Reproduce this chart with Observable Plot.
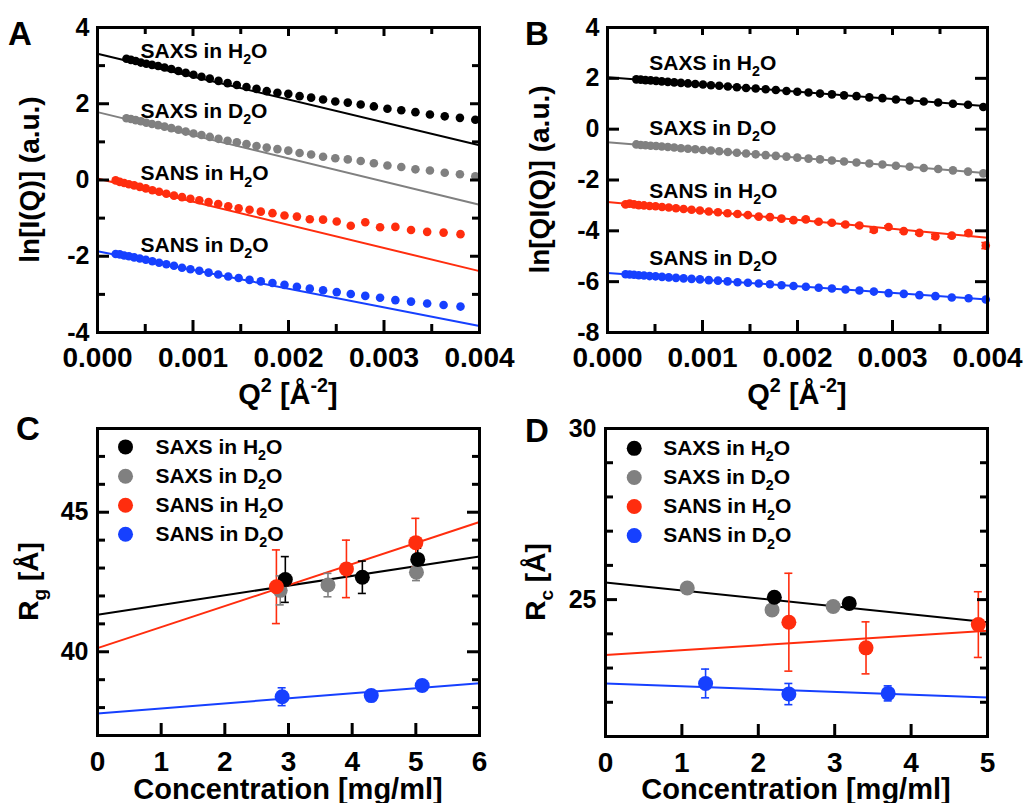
<!DOCTYPE html>
<html><head><meta charset="utf-8">
<script src="https://cdn.jsdelivr.net/npm/d3@7"></script>
<script src="https://cdn.jsdelivr.net/npm/@observablehq/plot@0.6"></script>
<style>
body{margin:0;background:#fff;}
#fig{position:relative;width:1024px;height:803px;overflow:hidden;background:#fff;}
.panel{position:absolute;}
</style></head><body><div id="fig"></div>
<script>
// ---------- series ----------
const seriesNames = ["SAXS in H_{2}O", "SAXS in D_{2}O", "SANS in H_{2}O", "SANS in D_{2}O"];
const seriesColors = ["#000000", "#808080", "#ff2d0e", "#1640ff"];

// ---------- Panel A: ln[I(Q)] vs Q^2 ----------
const qSAXS = [0.000303,0.000350,0.000400,0.000454,0.000511,0.000571,0.000635,0.000702,0.000773,0.000847,0.000924,0.001005,0.001089,0.001176,0.001267,0.001362,0.001459,0.001560,0.001665,0.001772,0.001884,0.001998,0.002116,0.002237,0.002362,0.002490,0.002621,0.002756,0.002894,0.003036,0.003181,0.003329,0.003481,0.003636,0.003795,0.003956];
const lnI_SAXS_H2O = [3.18,3.15,3.12,3.08,3.05,3.02,2.99,2.95,2.91,2.86,2.81,2.76,2.71,2.66,2.60,2.54,2.49,2.44,2.39,2.33,2.29,2.26,2.20,2.16,2.11,2.06,2.03,1.98,1.93,1.87,1.83,1.78,1.72,1.67,1.63,1.58];
const lnI_SAXS_D2O = [1.62,1.60,1.57,1.54,1.50,1.47,1.44,1.40,1.36,1.32,1.27,1.22,1.18,1.13,1.08,1.03,0.99,0.94,0.89,0.85,0.81,0.77,0.71,0.67,0.61,0.57,0.54,0.50,0.44,0.38,0.34,0.28,0.25,0.19,0.15,0.10];
const qSANS = [0.000190,0.000233,0.000279,0.000329,0.000384,0.000443,0.000506,0.000574,0.000645,0.000721,0.000801,0.000885,0.000973,0.001066,0.001163,0.001264,0.001369,0.001478,0.001592,0.001710,0.001832,0.001958,0.002088,0.002223,0.002362,0.002505,0.002652,0.002804,0.002959,0.003119,0.003283,0.003452,0.003624,0.003801];
const lnI_SANS_H2O = [-0.01,-0.05,-0.08,-0.11,-0.14,-0.18,-0.22,-0.27,-0.31,-0.36,-0.41,-0.45,-0.49,-0.53,-0.58,-0.63,-0.69,-0.74,-0.78,-0.83,-0.87,-0.93,-0.96,-1.03,-1.04,-1.09,-1.20,-1.11,-1.24,-1.23,-1.31,-1.36,-1.38,-1.42];
const lnI_SANS_D2O = [-1.94,-1.95,-1.98,-2.00,-2.03,-2.06,-2.09,-2.13,-2.17,-2.21,-2.25,-2.30,-2.34,-2.38,-2.43,-2.48,-2.53,-2.57,-2.62,-2.66,-2.70,-2.75,-2.80,-2.85,-2.89,-2.94,-2.99,-3.04,-3.09,-3.15,-3.19,-3.24,-3.28,-3.32];
const fitA_x = [0, 0.004];
const fitA_y0 = [3.31, 1.78, 0.04, -1.87];
const fitA_y1 = [0.91, -0.65, -2.39, -3.83];

// ---------- Panel B: ln[QI(Q)] vs Q^2 ----------
const qSANS_B = [0.000190,0.000233,0.000279,0.000329,0.000384,0.000443,0.000506,0.000574,0.000645,0.000721,0.000801,0.000885,0.000973,0.001066,0.001163,0.001264,0.001369,0.001478,0.001592,0.001710,0.001832,0.001958,0.002088,0.002223,0.002362,0.002505,0.002652,0.002804,0.002959,0.003119,0.003283,0.003452,0.003624,0.003801,0.003982];
const lnQI_SAXS_H2O = [1.96,1.95,1.93,1.92,1.90,1.88,1.86,1.84,1.82,1.80,1.78,1.76,1.73,1.71,1.68,1.65,1.62,1.60,1.57,1.54,1.50,1.47,1.44,1.40,1.37,1.33,1.30,1.25,1.22,1.17,1.13,1.09,1.05,1.00,0.96,0.87];
const lnQI_SAXS_D2O = [-0.60,-0.62,-0.63,-0.65,-0.66,-0.68,-0.70,-0.72,-0.75,-0.77,-0.79,-0.82,-0.84,-0.87,-0.90,-0.93,-0.96,-0.99,-1.02,-1.05,-1.08,-1.12,-1.16,-1.19,-1.23,-1.27,-1.31,-1.35,-1.39,-1.44,-1.48,-1.53,-1.57,-1.62,-1.67,-1.74];
const lnQI_SANS_H2O = [-2.96,-2.93,-2.96,-2.99,-3.00,-3.02,-3.03,-3.06,-3.08,-3.11,-3.14,-3.17,-3.20,-3.24,-3.27,-3.31,-3.34,-3.38,-3.44,-3.46,-3.52,-3.58,-3.55,-3.64,-3.68,-3.75,-3.79,-3.97,-3.85,-4.01,-4.08,-4.22,-4.19,-4.09,-4.58];
const errQI_SANS_H2O = [0.03,0.03,0.03,0.03,0.03,0.03,0.03,0.03,0.03,0.03,0.03,0.03,0.03,0.03,0.03,0.03,0.03,0.03,0.03,0.03,0.04,0.04,0.04,0.04,0.04,0.05,0.05,0.08,0.05,0.05,0.06,0.08,0.06,0.06,0.12];
const lnQI_SANS_D2O = [-5.71,-5.72,-5.73,-5.75,-5.76,-5.78,-5.79,-5.81,-5.83,-5.85,-5.87,-5.89,-5.91,-5.94,-5.96,-5.99,-6.02,-6.04,-6.07,-6.10,-6.14,-6.17,-6.20,-6.24,-6.27,-6.31,-6.35,-6.39,-6.45,-6.48,-6.53,-6.57,-6.62,-6.65,-6.70];
const fitB_x = [0, 0.004];
const fitB_y0 = [2.04, -0.51, -2.87, -5.66];
const fitB_y1 = [0.90, -1.73, -4.27, -6.70];

// ---------- Panel C: Rg vs concentration ----------
const concC = [[2.95, 4.16, 5.03], [2.87, 3.62, 5.01], [2.81, 3.91, 5.00], [2.90, 4.30, 5.10]];
const RgC   = [[42.59, 42.67, 43.31], [42.20, 42.39, 42.85], [42.33, 42.97, 43.91], [38.39, 38.43, 38.79]];
const errRgC = [[0.82, 0.58, 0.40], [0.52, 0.42, 0.30], [1.32, 1.03, 0.87], [0.32, 0.20, 0.20]];
const fitC_series = [0, 2, 3];
const fitC_x = [0, 6];
const fitC_y0 = [41.33, 40.13, 37.79];
const fitC_y1 = [43.41, 44.65, 38.87];

// ---------- Panel D: Rc vs concentration ----------
const concD = [[2.21, 3.19], [1.07, 2.18, 2.98], [2.40, 3.41, 4.88], [1.31, 2.40, 3.70]];
const RcD   = [[25.07, 24.89], [25.34, 24.70, 24.80], [24.34, 23.59, 24.27], [22.55, 22.24, 22.26]];
const errRcD = [[0, 0], [0, 0, 0], [1.43, 0.76, 0.96], [0.42, 0.31, 0.22]];
const fitD_series = [0, 2, 3];
const fitD_x = [0, 5];
const fitD_y0 = [25.50, 23.38, 22.55];
const fitD_y1 = [24.34, 24.09, 22.14];

// ---------- tick labels ----------
const xLabelsQ = [0, 0.001, 0.002, 0.003, 0.004];
const yLabelsA = [-4, -2, 0, 2, 4];
const yLabelsB = [-8, -6, -4, -2, 0, 2, 4];
const xLabelsC = [0, 1, 2, 3, 4, 5, 6];
const yLabelsC = [40, 45];
const xLabelsD = [0, 1, 2, 3, 4, 5];
const yLabelsD = [25, 30];

// ---------- helpers ----------
const FONT = "'Liberation Sans', Arial, Helvetica, sans-serif";
const fig = document.getElementById("fig");

function richify(node) {
  const s = node.textContent;
  if (!/[_^]\{/.test(s)) return;
  const fs = parseFloat(getComputedStyle(node).fontSize) || 20;
  const sel = d3.select(node); sel.text(null);
  const re = /([_^])\{([^}]*)\}/g; let last = 0, m; const parts = [];
  while ((m = re.exec(s))) {
    if (m.index > last) parts.push({t: s.slice(last, m.index), k: 0});
    parts.push({t: m[2], k: m[1] === "_" ? 1 : -1});
    last = re.lastIndex;
  }
  if (last < s.length) parts.push({t: s.slice(last), k: 0});
  let cur = 0;
  for (const p of parts) {
    const target = p.k === 1 ? 0.3 * fs : p.k === -1 ? -0.42 * fs : 0;
    const ts = sel.append("tspan").attr("dy", target - cur).text(p.t);
    if (p.k) ts.attr("font-size", 0.68 * fs);
    cur = target;
  }
}

function sideTicks(fw, fh, spec) {
  const out = [];
  const st = {stroke: "black", strokeWidth: 3};
  for (const t of spec.bottom || []) out.push(Plot.tickX(t[0], {x: d => d, insetTop: fh - t[1], ...st}));
  for (const t of spec.top || []) out.push(Plot.tickX(t[0], {x: d => d, insetBottom: fh - t[1], ...st}));
  for (const t of spec.left || []) out.push(Plot.tickY(t[0], {y: d => d, insetRight: fw - t[1], ...st}));
  for (const t of spec.right || []) out.push(Plot.tickY(t[0], {y: d => d, insetLeft: fw - t[1], ...st}));
  return out;
}

function makePanel(cfg) {
  const fw = cfg.width - cfg.mL - cfg.mR, fh = cfg.height - cfg.mT - cfg.mB;
  const chart = Plot.plot({
    width: cfg.width, height: cfg.height,
    marginLeft: cfg.mL, marginRight: cfg.mR, marginTop: cfg.mT, marginBottom: cfg.mB,
    x: {domain: cfg.xDomain}, y: {domain: cfg.yDomain},
    color: {type: "identity"},
    style: {fontFamily: FONT, fontWeight: "bold", color: "black", background: "transparent", overflow: "visible"},
    marks: [
      ...cfg.marks,
      Plot.frame({stroke: "black", strokeWidth: 3}),
      ...sideTicks(fw, fh, cfg.ticks),
      Plot.axisX(cfg.xLabels, {tickSize: 0, tickPadding: cfg.xPad, tickFormat: cfg.xFormat, fontSize: 28, fontWeight: "bold", label: null}),
      Plot.axisY(cfg.yLabels, {tickSize: 0, tickPadding: cfg.yPad, tickFormat: d => String(d), fontSize: 25, fontWeight: "bold", label: null})
    ]
  });
  const div = document.createElement("div");
  div.className = "panel";
  div.style.left = cfg.left + "px"; div.style.top = cfg.top + "px";
  div.appendChild(chart);
  fig.appendChild(div);
  const svg = d3.select(chart.tagName === "svg" ? chart : chart.querySelector("svg"));
  const addText = (txt, x, y, size, anchor, rotate) => {
    svg.append("text")
      .attr("transform", `translate(${x},${y})` + (rotate ? ` rotate(${rotate})` : ""))
      .attr("text-anchor", anchor).attr("font-size", size).attr("font-weight", "bold")
      .attr("font-family", FONT).attr("fill", "black").text(txt);
  };
  const t = cfg.titles;
  addText(t.letter, t.letterX, t.letterY, 33, "start");
  addText(t.x, cfg.mL + fw / 2, t.xY, 29, "middle");
  addText(t.y, t.yX, cfg.mT + fh / 2, 28, "middle", -90);
  svg.selectAll("text").each(function() { richify(this); });
}

// ---------- build tables ----------
const tableA = [
  ...qSAXS.map((q, i) => ({s: 0, q, v: lnI_SAXS_H2O[i]})),
  ...qSAXS.map((q, i) => ({s: 1, q, v: lnI_SAXS_D2O[i]})),
  ...qSANS.map((q, i) => ({s: 2, q, v: lnI_SANS_H2O[i]})),
  ...qSANS.map((q, i) => ({s: 3, q, v: lnI_SANS_D2O[i]}))
];
const fitA = fitA_y0.map((y0, i) => ({s: i, x0: fitA_x[0], x1: fitA_x[1], y0, y1: fitA_y1[i]}));

const tableB = [
  ...qSAXS.map((q, i) => ({s: 0, q, v: lnQI_SAXS_H2O[i], e: 0})),
  ...qSAXS.map((q, i) => ({s: 1, q, v: lnQI_SAXS_D2O[i], e: 0})),
  ...qSANS_B.map((q, i) => ({s: 2, q, v: lnQI_SANS_H2O[i], e: errQI_SANS_H2O[i]})),
  ...qSANS_B.map((q, i) => ({s: 3, q, v: lnQI_SANS_D2O[i], e: 0}))
];
const fitB = fitB_y0.map((y0, i) => ({s: i, x0: fitB_x[0], x1: fitB_x[1], y0, y1: fitB_y1[i]}));

const drawOrder = [1, 0, 2, 3];
const tableC = drawOrder.flatMap(s => concC[s].map((c, i) => ({s, c, v: RgC[s][i], e: errRgC[s][i]})));
const fitC = fitC_series.map((s, i) => ({s, x0: fitC_x[0], x1: fitC_x[1], y0: fitC_y0[i], y1: fitC_y1[i]}));
const tableD = drawOrder.flatMap(s => concD[s].map((c, i) => ({s, c, v: RcD[s][i], e: errRcD[s][i]})));
const fitD = fitD_series.map((s, i) => ({s, x0: fitD_x[0], x1: fitD_x[1], y0: fitD_y0[i], y1: fitD_y1[i]}));

const col = d => seriesColors[d.s];
const fitLines = (data, w) => Plot.link(data, {x1: "x0", y1: "y0", x2: "x1", y2: "y1", stroke: col, strokeWidth: w});
const errBars = (data, xKey, cap) => [
  Plot.ruleX(data.filter(d => d.e > 0), {x: xKey, y1: d => d.v - d.e, y2: d => d.v + d.e, stroke: col, strokeWidth: 1.6}),
  Plot.ruleY(data.filter(d => d.e > 0), {x1: xKey, x2: xKey, y: d => d.v + d.e, insetLeft: -cap, insetRight: -cap, stroke: col, strokeWidth: 1.6}),
  Plot.ruleY(data.filter(d => d.e > 0), {x1: xKey, x2: xKey, y: d => d.v - d.e, insetLeft: -cap, insetRight: -cap, stroke: col, strokeWidth: 1.6})
];

// annotation anchors (data units) for panels A and B
const annA = seriesNames.map((name, i) => ({name, x: 0.00045, y: [3.38, 1.81, 0.17, -1.70][i]}));
const annB = seriesNames.map((name, i) => ({name, x: 0.00044, y: [2.60, 0.05, -2.45, -5.07][i]}));
// legend rows (data units) for panels C and D
const legC = seriesNames.map((name, i) => ({name, s: i, y: [47.34, 46.29, 45.25, 44.21][i]}));
const legD = seriesNames.map((name, i) => ({name, s: i, y: [29.42, 28.57, 27.72, 26.87][i]}));

// ---------- Panel A ----------
makePanel({
  left: 0, top: 0, width: 512, height: 400, mL: 97, mR: 33, mT: 27, mB: 68,
  xDomain: [0, 0.004], yDomain: [-4, 4],
  xLabels: xLabelsQ, yLabels: yLabelsA, xFormat: d => d.toFixed(3), xPad: 15, yPad: 8,
  ticks: {
    bottom: [[[0.001, 0.002, 0.003], 12], [[0.0005, 0.0015, 0.0025, 0.0035], 8]],
    top: [[[0.001, 0.002, 0.003], 9], [[0.0005, 0.0015, 0.0025, 0.0035], 7]],
    left: [[[-2, 0, 2], 12], [[-3, -1, 1, 3], 8]],
    right: [[[-2, 0, 2], 9], [[-3, -1, 1, 3], 7]]
  },
  marks: [
    Plot.dot(tableA, {x: "q", y: "v", r: 4.3, fill: col}),
    fitLines(fitA, 2),
    Plot.text(annA, {x: "x", y: "y", text: "name", textAnchor: "start", fontSize: 21, fontWeight: "bold", fill: "black"})
  ],
  titles: {letter: "A", letterX: 8, letterY: 45, x: "Q^{2} [Å^{-2}]", xY: 404, y: "ln[I(Q)] (a.u.)", yX: 39}
});

// ---------- Panel B ----------
makePanel({
  left: 512, top: 0, width: 512, height: 400, mL: 95, mR: 37, mT: 27, mB: 68,
  xDomain: [0, 0.004], yDomain: [-8, 4],
  xLabels: xLabelsQ, yLabels: yLabelsB, xFormat: d => d.toFixed(3), xPad: 15, yPad: 8,
  ticks: {
    bottom: [[[0.001, 0.002, 0.003], 12], [[0.0005, 0.0015, 0.0025, 0.0035], 8]],
    top: [[[0.001, 0.002, 0.003], 8], [[0.0005, 0.0015, 0.0025, 0.0035], 7]],
    left: [[[-6, -4, -2, 0, 2], 12]],
    right: [[[-6, -4, -2, 0, 2], 12]]
  },
  marks: [
    fitLines(fitB, 2),
    ...errBars(tableB, "q", 4),
    Plot.dot(tableB, {x: "q", y: "v", r: 4.3, fill: col}),
    Plot.text(annB, {x: "x", y: "y", text: "name", textAnchor: "start", fontSize: 21, fontWeight: "bold", fill: "black"})
  ],
  titles: {letter: "B", letterX: 13, letterY: 45, x: "Q^{2} [Å^{-2}]", xY: 404, y: "ln[QI(Q)] (a.u.)", yX: 37}
});

// ---------- Panel C ----------
makePanel({
  left: 0, top: 400, width: 512, height: 403, mL: 97, mR: 33, mT: 28, mB: 68,
  xDomain: [0, 6], yDomain: [37, 48],
  xLabels: xLabelsC, yLabels: yLabelsC, xFormat: d => String(d), xPad: 16, yPad: 9,
  ticks: {
    bottom: [[[1, 2, 3, 4, 5], 12]],
    left: [[[40, 45], 12], [[38, 39, 41, 42, 43, 44, 46, 47], 8]],
    right: [[[40, 45], 12], [[38, 39, 41, 42, 43, 44, 46, 47], 7]]
  },
  marks: [
    fitLines(fitC, 2),
    ...errBars(tableC, "c", 4),
    Plot.dot(tableC, {x: "c", y: "v", r: 7.5, fill: col}),
    Plot.dot(legC, {x: () => 0.44, y: "y", r: 7.5, fill: col}),
    Plot.text(legC, {x: () => 0.91, y: "y", text: "name", textAnchor: "start", fontSize: 21, fontWeight: "bold", fill: "black"})
  ],
  titles: {letter: "C", letterX: 16, letterY: 40, x: "Concentration [mg/ml]", xY: 399, y: "R_{g} [Å]", yX: 38}
});

// ---------- Panel D ----------
makePanel({
  left: 512, top: 400, width: 512, height: 403, mL: 93, mR: 37, mT: 28, mB: 67,
  xDomain: [0, 5], yDomain: [21, 30],
  xLabels: xLabelsD, yLabels: yLabelsD, xFormat: d => String(d), xPad: 16, yPad: 9,
  ticks: {
    bottom: [[[1, 2, 3, 4], 12]],
    left: [[[25], 12], [[22, 23, 24, 26, 27, 28, 29], 8]],
    right: [[[25], 10], [[22, 23, 24, 26, 27, 28, 29], 7]]
  },
  marks: [
    fitLines(fitD, 2),
    ...errBars(tableD, "c", 4),
    Plot.dot(tableD, {x: "c", y: "v", r: 7.5, fill: col}),
    Plot.dot(legD, {x: () => 0.376, y: "y", r: 7.5, fill: col}),
    Plot.text(legD, {x: () => 0.755, y: "y", text: "name", textAnchor: "start", fontSize: 21, fontWeight: "bold", fill: "black"})
  ],
  titles: {letter: "D", letterX: 13, letterY: 42, x: "Concentration [mg/ml]", xY: 399, y: "R_{c} [Å]", yX: 33}
});
</script>
</body></html>
